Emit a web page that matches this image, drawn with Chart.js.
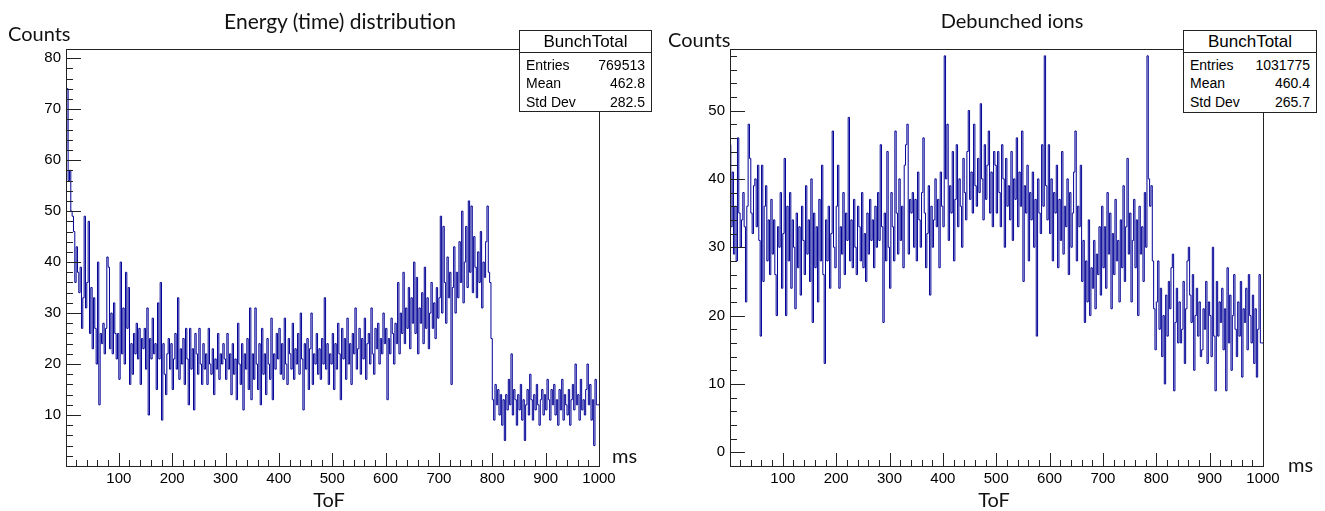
<!DOCTYPE html>
<html>
<head>
<meta charset="utf-8">
<script src="https://cdn.jsdelivr.net/npm/chart.js@4.4.1/dist/chart.umd.min.js"></script>
<style>
  body { margin: 0; background: #fff; width: 1325px; height: 511px; position: relative; overflow: hidden; }
  canvas { position: absolute; top: 0; }
  .lbl { position: absolute; font-family: Lato, "Open Sans", sans-serif; font-size: 20px; color: #111; white-space: nowrap; line-height: 20px; }
  .ctr { transform: translateX(-50%); }
  .stats { position: absolute; border: 1px solid #222; background: #fff; font-family: "Liberation Sans", Arial, sans-serif; color: #000; }
  .stats .hd { position: absolute; left: 0; right: 0; top: 0; height: 21px; border-bottom: 1px solid #222; text-align: center; font-size: 17px; line-height: 22px; }
  .stats .row { position: absolute; left: 6px; right: 6px; font-size: 14px; line-height: 16px; }
  .stats .row span { float: right; }
</style>
</head>
<body>
<canvas id="leftchart" width="662" height="511" style="left:0px"></canvas>
<canvas id="rightchart" width="663" height="511" style="left:662px"></canvas>

<div class="lbl ctr" style="left:340px; top:11px; font-size:21px">Energy (time) distribution</div>
<div class="lbl" style="left:8px; top:23px">Counts</div>
<div class="lbl ctr" style="left:329px; top:489px">ToF</div>
<div class="lbl" style="left:612px; top:445px">ms</div>

<div class="lbl ctr" style="left:1012px; top:10px">Debunched ions</div>
<div class="lbl" style="left:668px; top:29px">Counts</div>
<div class="lbl ctr" style="left:994px; top:489px">ToF</div>
<div class="lbl" style="left:1288px; top:454px">ms</div>

<div class="stats" style="left:519px; top:30px; width:131px; height:80px">
  <div class="hd">BunchTotal</div>
  <div class="row" style="top:26px">Entries<span>769513</span></div>
  <div class="row" style="top:44px">Mean<span>462.8</span></div>
  <div class="row" style="top:63px">Std Dev<span>282.5</span></div>
</div>
<div class="stats" style="left:1183px; top:30px; width:132px; height:81px">
  <div class="hd">BunchTotal</div>
  <div class="row" style="top:26px">Entries<span>1031775</span></div>
  <div class="row" style="top:44px">Mean<span>460.4</span></div>
  <div class="row" style="top:63px">Std Dev<span>265.7</span></div>
</div>

<script>
// 2.5 ms bins, 0..1000 ms (40 bins per 100 ms row pair)
const binWidth = 2.5

const energyCounts = [
  78, 62, 74, 56, 58, 50, 49, 46, 36, 43, 38, 34, 39, 27, 33, 49, 31, 36, 48, 26,
  35, 23, 33, 27, 20, 40, 12, 26, 24, 28, 22, 27, 41, 39, 23, 30, 22, 32, 26, 21,
  26, 17, 40, 22, 31, 20, 38, 27, 35, 16, 24, 18, 26, 22, 28, 21, 27, 16, 25, 23,
  27, 19, 31, 10, 25, 21, 29, 22, 24, 15, 32, 21, 36, 9, 24, 18, 14, 22, 25, 19,
  24, 15, 21, 26, 19, 33, 17, 23, 20, 25, 16, 27, 21, 12, 27, 19, 23, 11, 26, 22,
  18, 27, 20, 16, 24, 19, 22, 16, 27, 20, 18, 23, 14, 21, 19, 26, 17, 22, 20, 24,
  21, 17, 26, 19, 22, 14, 24, 18, 21, 13, 28, 20, 16, 24, 11, 22, 19, 25, 15, 31,
  13, 22, 17, 31, 20, 15, 24, 12, 27, 18, 22, 14, 25, 20, 17, 29, 13, 22, 19, 26,
  21, 27, 18, 24, 17, 29, 20, 16, 25, 22, 19, 28, 17, 23, 20, 26, 18, 30, 21, 11,
  24, 19, 25, 15, 23, 30, 16, 22, 20, 26, 18, 23, 17, 25, 20, 33, 19, 24, 16, 22,
  20, 26, 15, 24, 19, 28, 22, 13, 27, 21, 25, 17, 29, 20, 24, 16, 26, 22, 31, 19,
  23, 27, 18, 25, 21, 29, 17, 24, 26, 20, 31, 22, 18, 27, 23, 28, 20, 25, 22, 30,
  24, 27, 13, 25, 22, 29, 26, 20, 28, 24, 36, 22, 30, 26, 38, 24, 31, 27, 35, 23,
  33, 28, 40, 26, 37, 22, 31, 28, 34, 24, 39, 27, 33, 23, 30, 36, 27, 32, 25, 35,
  29, 33, 49, 30, 47, 36, 28, 41, 33, 38, 16, 35, 43, 30, 38, 33, 44, 36, 50, 32,
  40, 47, 35, 52, 38, 51, 34, 45, 39, 33, 42, 36, 46, 31, 40, 37, 44, 51, 38, 36,
  25, 13, 9, 16, 12, 15, 10, 14, 8, 13, 5, 14, 11, 17, 12, 22, 10, 15, 13, 8,
  14, 11, 16, 9, 13, 5, 12, 15, 10, 18, 13, 9, 14, 11, 16, 12, 8, 13, 15, 10,
  14, 11, 17, 13, 9, 15, 12, 16, 10, 13, 8, 15, 11, 17, 9, 14, 12, 10, 15, 8,
  13, 16, 11, 20, 12, 14, 9, 17, 11, 13, 10, 15, 20, 12, 16, 9, 13, 4, 17, 12
]

const debunchedCounts = [
  53, 45, 33, 41, 29, 36, 28, 46, 35, 30, 34, 38, 33, 22, 36, 48, 43, 35, 32, 39,
  40, 33, 42, 31, 17, 42, 25, 36, 39, 28, 34, 26, 37, 29, 34, 26, 20, 33, 30, 38,
  24, 32, 43, 20, 36, 28, 38, 24, 34, 30, 21, 35, 27, 33, 23, 36, 31, 26, 39, 29,
  34, 25, 40, 19, 35, 27, 33, 22, 37, 28, 42, 26, 13, 34, 28, 36, 24, 32, 47, 30,
  27, 36, 42, 24, 33, 29, 38, 26, 35, 31, 49, 28, 34, 27, 37, 30, 26, 36, 33, 28,
  38, 27, 32, 25, 35, 29, 37, 31, 34, 27, 36, 30, 38, 31, 45, 33, 19, 35, 28, 44,
  30, 24, 38, 33, 28, 47, 35, 29, 40, 31, 36, 27, 42, 45, 48, 29, 37, 35, 38, 30,
  37, 28, 41, 34, 30, 38, 46, 35, 27, 32, 39, 23, 36, 30, 34, 40, 33, 37, 27, 41,
  36, 33, 58, 40, 48, 31, 39, 35, 44, 28, 37, 45, 33, 40, 36, 30, 43, 38, 34, 44,
  50, 37, 41, 35, 48, 39, 36, 43, 38, 51, 40, 34, 45, 37, 42, 47, 35, 41, 33, 44,
  42, 35, 44, 38, 33, 45, 40, 30, 43, 36, 39, 34, 44, 31, 40, 37, 46, 33, 41, 36,
  47, 25, 39, 35, 42, 28, 38, 34, 41, 30, 37, 17, 40, 35, 32, 45, 36, 58, 39, 34,
  45, 32, 40, 28, 38, 35, 42, 27, 37, 31, 44, 29, 36, 33, 40, 26, 38, 30, 35, 41,
  47, 28, 36, 33, 42, 25, 31, 19, 28, 22, 34, 20, 27, 24, 31, 21, 29, 26, 33, 23,
  36, 27, 33, 24, 38, 29, 35, 21, 32, 26, 37, 28, 31, 22, 34, 27, 39, 25, 33, 43,
  29, 35, 22, 31, 37, 27, 34, 20, 36, 29, 33, 25, 38, 30, 58, 40, 36, 39, 28, 21,
  15, 22, 28, 18, 24, 14, 20, 10, 23, 17, 25, 21, 27, 29, 9, 19, 24, 16, 22, 16,
  18, 25, 13, 21, 28, 30, 23, 19, 26, 12, 20, 24, 17, 22, 14, 15, 21, 18, 25, 13,
  22, 20, 14, 30, 17, 9, 25, 17, 22, 19, 24, 15, 21, 9, 27, 16, 23, 12, 20, 26,
  18, 14, 22, 17, 25, 11, 21, 19, 24, 15, 26, 20, 16, 23, 13, 21, 11, 18, 26, 16
]

const xTickValues = [100, 200, 300, 400, 500, 600, 700, 800, 900, 1000]
const energyYTicks = [10, 20, 30, 40, 50, 60, 70, 80]
const debunchedYTicks = [0, 10, 20, 30, 40, 50]

// ROOT style frame + inward tick marks
const rootAxes = {
    id: 'rootAxes',
    afterDraw(chart, args, opts) {
        const ctx = chart.ctx
        const a = chart.chartArea
        const x = chart.scales.x
        const y = chart.scales.y
        ctx.save()
        ctx.strokeStyle = '#222'
        ctx.lineWidth = 1
        ctx.strokeRect(Math.round(a.left) + 0.5, Math.round(a.top) + 0.5,
            Math.round(a.right - a.left), Math.round(a.bottom - a.top))
        ctx.beginPath()
        for (let v = 20; v <= 1000; v += 20) {
            const px = Math.round(x.getPixelForValue(v)) + 0.5
            const len = v % 100 === 0 ? 13 : 6
            ctx.moveTo(px, a.bottom)
            ctx.lineTo(px, a.bottom - len)
        }
        for (let v = opts.yStart; v <= y.max; v += 2) {
            const py = Math.round(y.getPixelForValue(v)) + 0.5
            const len = v % 10 === 0 ? 15 : 7
            ctx.moveTo(a.left, py)
            ctx.lineTo(a.left + len, py)
        }
        ctx.stroke()
        ctx.restore()
    }
}

function histPoints(counts) {
    let pts = counts.map(function (c, i) {
        return { x: i * binWidth, y: c }
    })
    pts.push({ x: counts.length * binWidth, y: counts[counts.length - 1] })
    return pts
}

function makeChart(canvasId, counts, yMin, yMax, yTicks, yStart, yWidth, rightPad) {
    const tickFont = { family: '"Liberation Sans", Arial, sans-serif', size: 15 }
    const config = {
        type: 'line',
        data: {
            datasets: [{
                data: histPoints(counts),
                borderColor: 'rgb(0, 0, 150)',
                borderWidth: 1,
                pointRadius: 0,
                stepped: 'after',
                fill: false
            }]
        },
        options: {
            responsive: false,
            animation: false,
            layout: { padding: { top: 49, right: rightPad, left: 0, bottom: 0 } },
            plugins: {
                legend: { display: false },
                tooltip: { enabled: false },
                rootAxes: { yStart: yStart }
            },
            scales: {
                x: {
                    type: 'linear',
                    min: 1,
                    max: 1000,
                    grid: { display: false, drawTicks: false },
                    border: { display: false },
                    ticks: { font: tickFont, color: '#000', padding: 4, maxRotation: 0,
                        callback: v => String(v) },
                    afterBuildTicks: function (s) {
                        s.ticks = xTickValues.map(v => ({ value: v }))
                    },
                    afterFit: function (s) { s.height = 45 }
                },
                y: {
                    min: yMin,
                    max: yMax,
                    grid: { display: false, drawTicks: false },
                    border: { display: false },
                    ticks: { font: tickFont, color: '#000', padding: 5,
                        callback: v => String(v) },
                    afterBuildTicks: function (s) {
                        s.ticks = yTicks.map(v => ({ value: v }))
                    },
                    afterFit: function (s) { s.width = yWidth }
                }
            }
        },
        plugins: [rootAxes]
    }
    return new Chart(document.getElementById(canvasId), config)
}

makeChart('leftchart', energyCounts, 0, 81.8, energyYTicks, 2, 66, 63)
makeChart('rightchart', debunchedCounts, -2, 59, debunchedYTicks, 0, 68, 62)
</script>
</body>
</html>
